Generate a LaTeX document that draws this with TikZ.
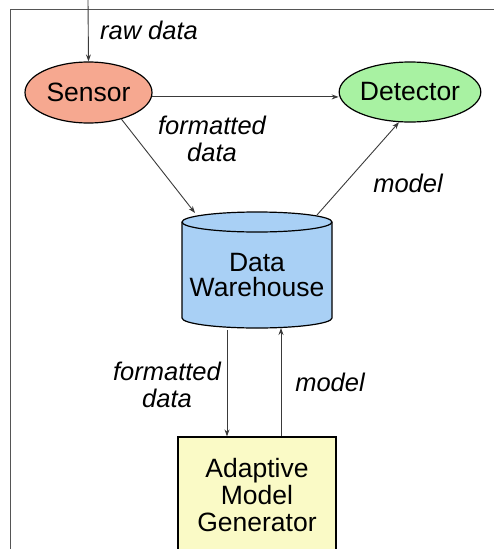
\documentclass[tikz,border=0pt]{standalone}
\usepackage{fontspec}
\setmainfont{Liberation Sans}
\usetikzlibrary{shapes.geometric,arrows.meta}
\definecolor{sensorfill}{HTML}{F6A890}
\definecolor{detfill}{HTML}{A8F2A2}
\definecolor{whfill}{HTML}{A9D0F5}
\definecolor{amgfill}{HTML}{FAFAC6}
\definecolor{linec}{HTML}{3A3A3A}
\definecolor{framec}{HTML}{555555}
\begin{document}
\begin{tikzpicture}[x=1pt,y=-1pt,
  conn/.style={draw=linec, line width=0.9pt, -{Stealth[length=7pt,width=5pt]}},
  lbl/.style={font=\fontsize{25.5}{27}\selectfont\itshape, align=center, inner sep=0pt},
  txt/.style={font=\fontsize{26.5}{27}\selectfont, align=center, inner sep=0pt},
  ell/.style={ellipse, draw=black, line width=1.2pt, inner sep=0pt, font=\fontsize{26.5}{27}\selectfont},
  shapeline/.style={draw=black, line width=1.2pt},
]
\useasboundingbox (0,0) rectangle (494,549);
\clip (0,0) rectangle (494,549);
% frame
\draw[framec, line width=1pt] (494,9) -- (10,9) -- (10,549);

% nodes
\node[ell, fill=sensorfill, minimum width=127pt, minimum height=61pt] (sensor) at (88.5,92.5) {Sensor};
\node[ell, fill=detfill, minimum width=124pt, minimum height=60pt] (detector) at (410,92) {Detector};

% warehouse cylinder
\path[fill=whfill, shapeline] (182,222) -- (182,318)
  arc[start angle=180, end angle=360, x radius=75pt, y radius=10pt]
  -- (332,222)
  arc[start angle=0, end angle=180, x radius=75pt, y radius=10pt] -- cycle;
\draw[shapeline] (182,222) arc[start angle=180, end angle=360, x radius=75pt, y radius=10pt];
\node[minimum width=150pt, minimum height=116pt, inner sep=0pt] (wh) at (257,270) {};
\node[txt, font=\fontsize{26.5}{24.5}\selectfont] (whtext) at (257,275) {Data\\Warehouse};

\node[txt, draw=black, line width=1.2pt, fill=amgfill, minimum width=158pt, minimum height=116pt] (amg) at (257,495) {Adaptive\\Model\\Generator};

% connector end points
\coordinate (rawtop) at (88,0);
\coordinate (whin) at (195,213);
\coordinate (whout) at (317,215);
\coordinate (whb1) at (227,330);
\coordinate (whb2) at (281,328);

% connectors
\draw[conn] (rawtop) -- (sensor.north);
\draw[conn] (sensor.-4) -- (detector.west |- sensor.-4);
\draw[conn] (sensor.-39) -- (whin);
\draw[conn] (whout) -- (detector.-110);
\draw[conn] (whb1) -- (amg.north -| whb1);
\draw[conn] (amg.north -| whb2) -- (whb2);

% labels
\node[lbl] (lraw) at (149,30) {raw data};
\node[lbl] (lfd1) at (212,139) {formatted\\data};
\node[lbl] (lm1) at (408,183) {model};
\node[lbl] (lfd2) at (167,385) {formatted\\data};
\node[lbl] (lm2) at (330,382) {model};
\end{tikzpicture}
\end{document}
